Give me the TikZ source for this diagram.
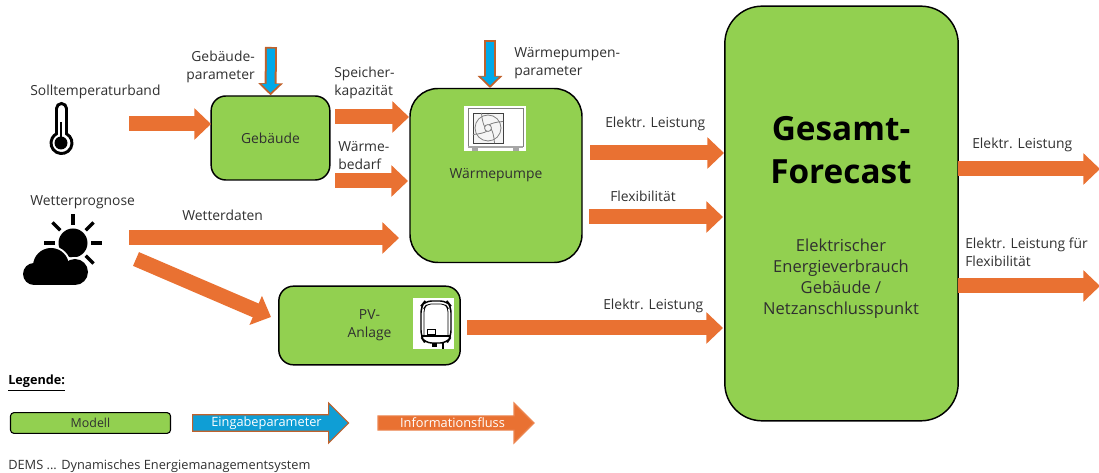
\documentclass[tikz,border=0pt]{standalone}
\usepackage{fontspec}
\setmainfont{Open Sans}
\usetikzlibrary{arrows.meta,shapes.arrows}
\definecolor{modelgreen}{HTML}{92D050}
\definecolor{flowcol}{HTML}{E97132}
\definecolor{parblue}{HTML}{00A9E8}
\definecolor{legblue}{HTML}{0F9ED5}
\definecolor{parrim}{HTML}{C0612B}
\definecolor{txtcol}{HTML}{303030}
\tikzset{
  model/.style={draw=black,line width=1.1pt,fill=modelgreen,text=txtcol,align=center,inner sep=0pt},
  flow/.style={draw=flowcol,line width=11.25pt,-{Triangle[length=12.5pt,width=23pt]}},
  param/.style={draw=parblue,line width=6pt,shorten >=2pt,shorten <=1.2pt,-{Triangle[length=6.5pt,width=13pt]},
    preaction={draw=parrim,line width=9pt,shorten >=0pt,shorten <=0pt,-{Triangle[length=9pt,width=18pt]}}},
  lab/.style={anchor=west,align=left,inner sep=0pt,text=txtcol},
  legarrow/.style={single arrow,single arrow head extend=7.5pt,single arrow head indent=0pt,minimum height=117pt,minimum width=30pt,
    inner sep=0pt,text=white,line width=0.9pt,font=\fontsize{9.6}{11}\selectfont},
  icon/.style={draw=gray,line width=0.6pt}
}
\begin{document}
\begin{tikzpicture}[x=0.75pt,y=-0.75pt,font=\fontsize{10.4}{13.5}\selectfont]
\useasboundingbox (0,0) rectangle (1099,473);
% Modelle
\node[model,rounded corners=11pt,minimum width=89pt,minimum height=63pt] (gebaeude) at (270.5,138) {Gebäude};
\node[model,rounded corners=21pt,minimum width=129pt,minimum height=130.5pt] (waermepumpe) at (496,175.5) {Wärmepumpe};
\node[model,rounded corners=11pt,minimum width=136pt,minimum height=59pt] (pv) at (369.5,325.5) {PV-\\Anlage};
\node[model,rounded corners=28pt,minimum width=175pt,minimum height=311pt] (gesamt) at (841.5,213.5) {};
\node[inner sep=0pt,align=center,font=\fontsize{25}{32}\bfseries\selectfont,text=black] (gesamttitel) at (841,150) {Gesamt-\\Forecast};
\node[inner sep=0pt,align=center,font=\fontsize{12.4}{15.75}\selectfont,text=txtcol] (gesamttext) at (841,279) {Elektrischer\\Energieverbrauch\\Gebäude /\\Netzanschlusspunkt};
% freie Enden
\coordinate (sollA) at (129,124);
\coordinate (sollB) at (211,124);
\coordinate (spA) at (335,117);
\coordinate (spB) at (409,117);
\coordinate (wbA) at (335,181);
\coordinate (wbB) at (408,181);
\coordinate (wdA) at (129,238);
\coordinate (wdB) at (399,238);
\coordinate (pvA) at (136,259);
\coordinate (pvB) at (271,317);
\coordinate (elA) at (590,153);
\coordinate (elB) at (724,153);
\coordinate (flA) at (589,217);
\coordinate (flB) at (723,217);
\coordinate (ppA) at (467,328);
\coordinate (ppB) at (723,328);
\coordinate (auA) at (958,169);
\coordinate (auB) at (1100,169);
\coordinate (fxA) at (958,286);
\coordinate (fxB) at (1100,286);
\coordinate (gpar) at (271,47);
\coordinate (wpar) at (490,40);
\coordinate (wparB) at (490,88);
% Pfeile
\draw[flow] (sollA) -- (sollB);
\draw[flow] (spA) -- (spB);
\draw[flow] (wbA) -- (wbB);
\draw[flow] (wdA) -- (wdB);
\draw[flow] (pvA) -- (pvB);
\draw[flow] (elA) -- (elB);
\draw[flow] (flA) -- (flB);
\draw[flow] (ppA) -- (ppB);
\draw[flow] (auA) -- (auB);
\draw[flow] (fxA) -- (fxB);
\draw[param] (gpar) -- (gebaeude.north);
\draw[param] (wpar) -- (wparB);
% Texte
\node[anchor=east,align=right,inner sep=0pt,text=txtcol] (gparlab) at (255,66.5) {Gebäude-\\parameter};
\node[lab] (solllab) at (30,92) {Solltemperaturband};
\node[lab] (wetterlab) at (30,202) {Wetterprognose};
\node[lab] (wdlab) at (182,215.5) {Wetterdaten};
\node[lab] (splab) at (334,83) {Speicher-\\kapazität};
\node[lab] (wblab) at (338,156) {Wärme-\\bedarf};
\node[lab] (wparlab) at (514,63) {Wärmepumpen-\\parameter};
\node[lab] (ellab) at (605,124) {Elektr. Leistung};
\node[lab] (fllab) at (610,196.5) {Flexibilität};
\node[lab] (pplab) at (603,305.5) {Elektr. Leistung};
\node[lab] (aulab) at (972,145) {Elektr. Leistung};
\node[lab] (fxlab) at (965,252) {Elektr. Leistung für\\Flexibilität};
% Thermometer
\draw[line width=2.2pt] (56.5,108.5) arc[start angle=180,end angle=360,radius=5] -- (66.5,133.8) arc[start angle=-61.6,end angle=241.6,radius=10.5] -- cycle;
\fill (61,143) circle (6.5);
\draw[line width=0.8pt] (61,122) -- (61,143);
% Sonne und Wolke
\fill (73,243) circle (14.5);
\foreach \w in {-135,-90,-45,0,45,180}
  \draw[line width=2.6pt] (73,243) ++(\w:18) -- ++(\w:11);
\foreach \cx/\cy/\cr in {34/274/13,51/266/20,75/272/15}
  \fill[white] (\cx,\cy) circle (\cr);
\foreach \cx/\cy/\cr in {34/274/11,51/266/18,75/272/13}
  \fill (\cx,\cy) circle (\cr);
\fill (34,272) rectangle (75,285);
% Waermepumpe Symbol
\fill[white] (464,106) rectangle (526,151);
\draw[icon] (468,108) rectangle (523,146);
\fill[gray!70] (468,146) rectangle (523,148);
\fill[gray!70] (472,148) rectangle (478,151);
\fill[gray!70] (513,148) rectangle (519,151);
\draw[draw=black!75,line width=0.7pt,fill=gray!8] (473,113) rectangle (503,143);
\draw[icon] (488,128) circle (13);
\draw[icon] (488,128) circle (3.5);
\foreach \w in {20,110,200,290}
  \draw[icon] (488,128) ++(\w:3.5) .. controls +(\w+40:7) and +(\w+70:7) .. ++(\w+55:12.5);
% Wechselrichter Symbol
\fill[white] (413,298) rectangle (454,349);
\draw[line width=1.1pt,rounded corners=5pt] (421,337) -- (421,306) -- (425,301) -- (447,301) -- (451,306) -- (451,337) -- (447,343) -- (425,343) -- cycle;
\draw[line width=0.6pt,rounded corners=3pt] (424,335) -- (424,308) -- (427,304) -- (445,304) -- (448,308) -- (448,335);
\draw[line width=0.8pt] (421,336) -- (451,336);
\draw[line width=0.7pt] (427,329) rectangle (435,334);
\fill (432,343) rectangle (437,347);
\fill (442,343) rectangle (444,349);
% Legende
\node[lab,text=black,font=\fontsize{9.5}{11}\bfseries\selectfont] (legende) at (8,383) {\underline{Legende:}};
\node[model,rounded corners=2.5pt,line width=0.8pt,minimum width=120pt,minimum height=15.5pt,font=\fontsize{9.3}{11}\selectfont] (modell) at (90.5,423) {Modell};
\node[legarrow,fill=legblue,draw=parrim] (eingabe) at (266.5,423) {Eingabeparameter};
\node[legarrow,fill=flowcol,draw=flowcol!85!white] (info) at (452.5,423) {Informationsfluss};
\node[lab,font=\fontsize{9.6}{11}\selectfont] (dems) at (8,466) {DEMS ... Dynamisches Energiemanagementsystem};
\end{tikzpicture}
\end{document}
